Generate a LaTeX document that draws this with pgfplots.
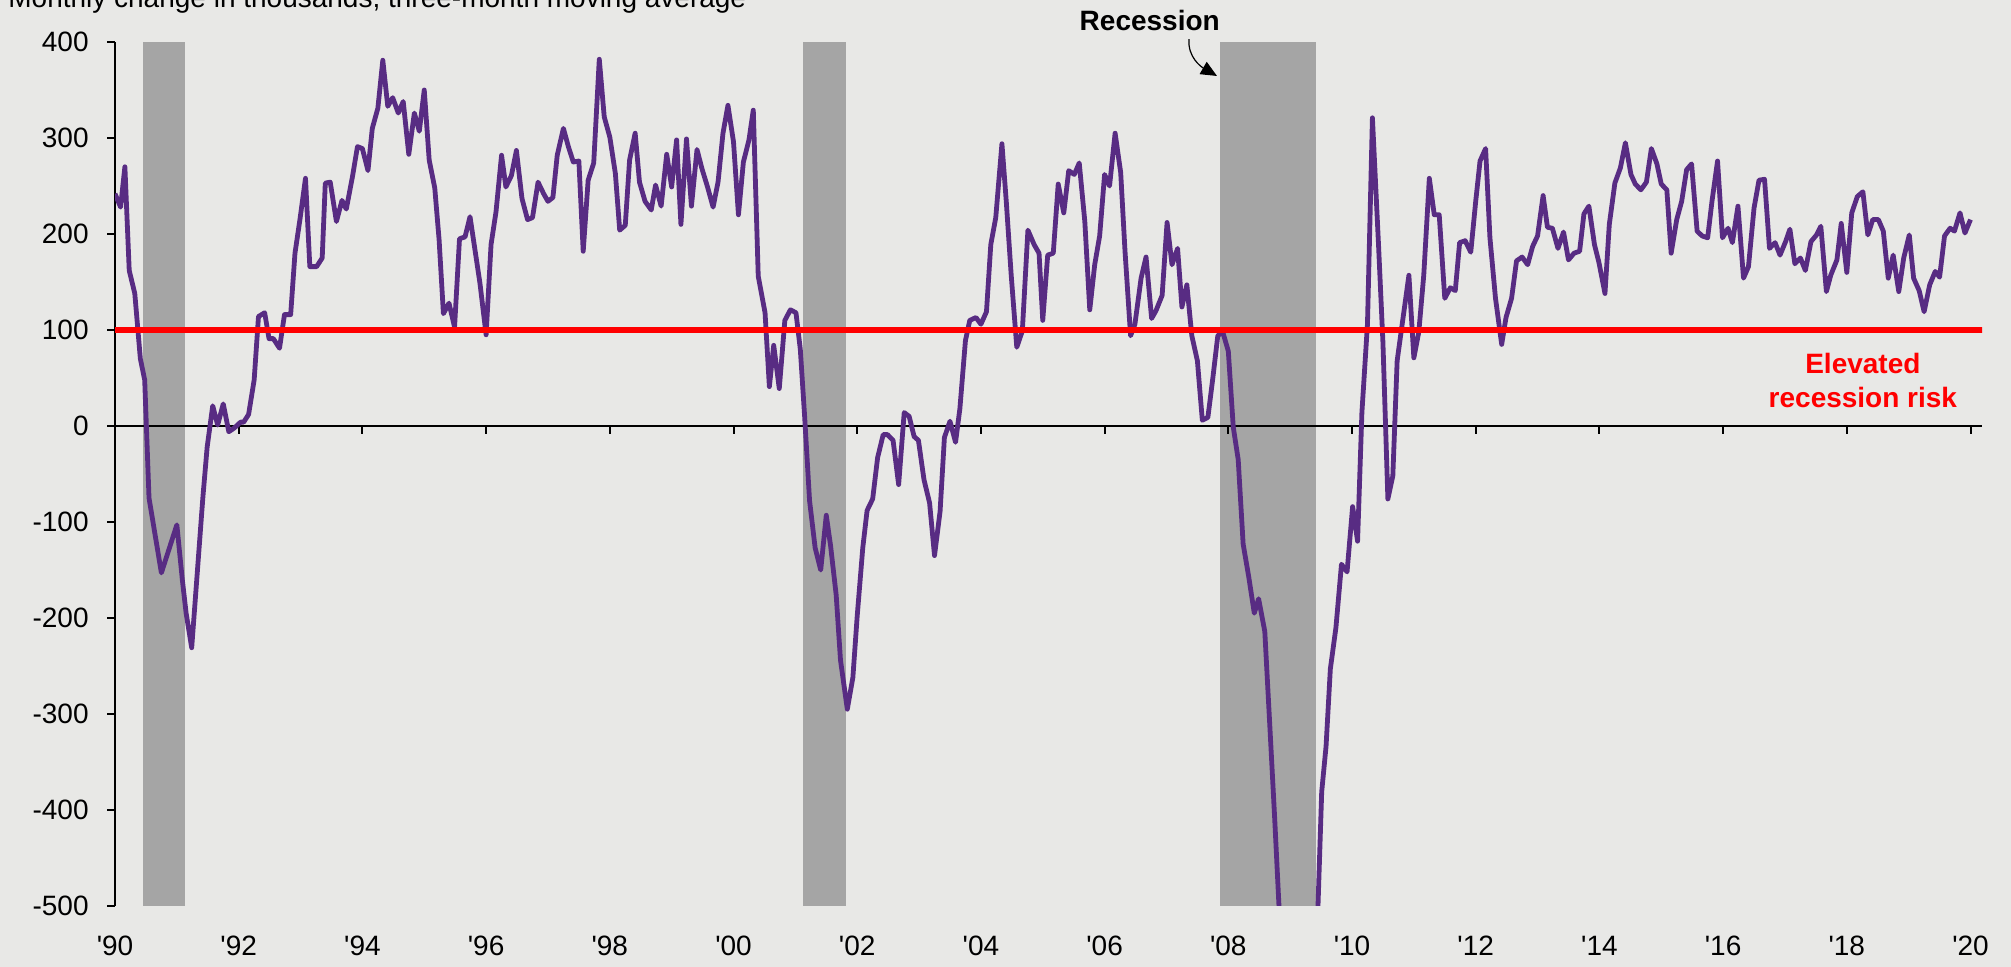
\documentclass[border=0pt]{standalone}
\usepackage{fontspec}
\setmainfont{Liberation Sans}
\usepackage{pgfplots}
\usepackage{pgfplotstable}
\pgfplotsset{compat=1.18}
\usetikzlibrary{arrows.meta}
\definecolor{bg}{HTML}{E8E8E6}
\definecolor{jobs}{HTML}{582C83}
\definecolor{recess}{HTML}{A5A5A5}
\definecolor{risk}{HTML}{FF0000}

% payroll change, thousands, 3-month moving average
\pgfplotstableread{
yr val
1990.00 242
1990.09 228
1990.16 270
1990.23 162
1990.32 138
1990.41 70
1990.48 48
1990.55 -75
1990.75 -153
1991.00 -103
1991.09 -161
1991.15 -195
1991.24 -231
1991.42 -75
1991.49 -22
1991.58 21
1991.66 1
1991.75 23
1991.84 -6
1991.93 -2
1992.03 4
1992.08 4
1992.16 12
1992.25 48
1992.32 114
1992.42 118
1992.49 91
1992.56 91
1992.66 81
1992.74 116
1992.84 116
1992.91 180
1992.99 215
1993.08 258
1993.15 166
1993.26 166
1993.35 175
1993.40 253
1993.48 254
1993.58 213
1993.67 235
1993.74 226
1993.84 260
1993.92 291
1994.00 289
1994.09 266
1994.16 310
1994.25 331
1994.33 381
1994.41 333
1994.49 342
1994.58 326
1994.66 338
1994.75 283
1994.84 326
1994.92 307
1995.00 350
1995.08 277
1995.17 248
1995.24 194
1995.31 117
1995.40 128
1995.49 103
1995.57 195
1995.66 197
1995.74 218
1995.90 149
1996.00 95
1996.08 189
1996.16 223
1996.25 282
1996.32 249
1996.41 261
1996.49 287
1996.58 237
1996.67 215
1996.75 217
1996.84 254
1996.93 242
1997.00 234
1997.08 238
1997.15 282
1997.25 310
1997.33 291
1997.41 275
1997.50 276
1997.57 182
1997.65 256
1997.74 274
1997.83 382
1997.91 322
1998.00 301
1998.09 263
1998.16 204
1998.25 209
1998.32 277
1998.41 305
1998.48 254
1998.57 234
1998.67 225
1998.74 251
1998.83 229
1998.92 283
1999.00 249
1999.08 298
1999.15 210
1999.24 299
1999.32 229
1999.41 288
1999.49 268
1999.58 249
1999.67 228
1999.75 254
1999.83 305
1999.91 334
2000.00 296
2000.08 220
2000.16 275
2000.25 298
2000.32 329
2000.40 156
2000.51 118
2000.58 41
2000.65 84
2000.74 39
2000.83 110
2000.92 121
2001.01 118
2001.08 80
2001.15 10
2001.23 -78
2001.32 -127
2001.41 -150
2001.50 -93
2001.57 -125
2001.66 -176
2001.73 -244
2001.84 -295
2001.93 -262
2002.00 -198
2002.09 -127
2002.16 -88
2002.25 -76
2002.33 -33
2002.42 -9
2002.49 -9
2002.58 -15
2002.67 -61
2002.76 14
2002.84 10
2002.92 -11
2002.99 -15
2003.08 -56
2003.17 -80
2003.25 -135
2003.34 -89
2003.41 -12
2003.50 5
2003.59 -17
2003.66 18
2003.75 89
2003.82 110
2003.92 113
2004.00 106
2004.09 119
2004.16 189
2004.24 217
2004.34 294
2004.41 234
2004.49 157
2004.58 82
2004.67 99
2004.76 204
2004.86 189
2004.94 180
2005.00 110
2005.08 178
2005.17 180
2005.25 252
2005.34 222
2005.42 266
2005.51 262
2005.59 274
2005.68 213
2005.76 121
2005.84 168
2005.92 198
2006.00 262
2006.08 250
2006.17 305
2006.26 264
2006.33 182
2006.42 94
2006.49 106
2006.59 154
2006.67 176
2006.76 112
2006.83 120
2006.93 136
2007.01 212
2007.09 168
2007.18 185
2007.25 124
2007.33 147
2007.41 94
2007.50 68
2007.58 6
2007.67 9
2007.75 50
2007.83 94
2007.91 98
2008.00 78
2008.08 -1
2008.16 -35
2008.24 -123
2008.33 -157
2008.42 -195
2008.49 -180
2008.59 -214
2008.67 -311
2008.75 -409
2008.82 -501
2008.92 -590
2009.00 -680
2009.08 -720
2009.17 -750
2009.25 -740
2009.33 -660
2009.42 -560
2009.51 -381
2009.58 -334
2009.65 -253
2009.74 -210
2009.83 -144
2009.92 -152
2010.01 -84
2010.09 -120
2010.16 14
2010.25 106
2010.33 321
2010.43 187
2010.50 87
2010.58 -76
2010.66 -52
2010.73 68
2010.92 157
2011.00 71
2011.08 98
2011.16 157
2011.25 258
2011.33 220
2011.41 220
2011.50 133
2011.59 144
2011.67 141
2011.74 191
2011.83 193
2011.92 181
2012.00 234
2012.07 276
2012.16 289
2012.23 196
2012.32 133
2012.42 85
2012.49 113
2012.58 133
2012.66 172
2012.75 176
2012.84 168
2012.92 187
2013.00 198
2013.09 240
2013.16 207
2013.24 206
2013.33 185
2013.42 202
2013.50 173
2013.59 180
2013.68 182
2013.75 221
2013.83 229
2013.92 189
2013.99 171
2014.09 138
2014.16 210
2014.25 253
2014.34 269
2014.42 295
2014.51 262
2014.58 252
2014.67 246
2014.76 254
2014.84 289
2014.93 273
2015.00 252
2015.09 246
2015.16 180
2015.25 215
2015.33 234
2015.41 267
2015.49 273
2015.58 203
2015.66 198
2015.75 196
2015.82 234
2015.91 276
2015.99 196
2016.08 206
2016.15 191
2016.24 229
2016.33 154
2016.41 166
2016.50 227
2016.58 256
2016.67 257
2016.75 185
2016.84 191
2016.92 178
2017.01 192
2017.08 205
2017.16 169
2017.25 175
2017.33 162
2017.42 192
2017.51 199
2017.58 208
2017.67 140
2017.74 157
2017.84 173
2017.91 211
2018.00 160
2018.08 222
2018.17 239
2018.26 244
2018.34 199
2018.42 215
2018.51 215
2018.59 203
2018.67 154
2018.75 178
2018.84 140
2018.92 175
2019.01 199
2019.08 154
2019.17 141
2019.25 119
2019.34 147
2019.43 161
2019.50 155
2019.58 198
2019.67 206
2019.74 203
2019.83 222
2019.91 201
2020.00 215
}\payrolls

\begin{document}
\begin{tikzpicture}
\fill[bg] (-57.5pt,-30.5pt) rectangle (948pt,453pt);
\begin{axis}[
  at={(0,0)}, anchor=south west,
  scale only axis, width=933.5pt, height=432pt,
  xmin=1990, xmax=2020.186, ymin=-500, ymax=400,
  axis y line*=left, axis x line*=bottom,
  x axis line style={draw=none},
  y axis line style={line width=1pt},
  ytick={-500,-400,-300,-200,-100,0,100,200,300,400},
  yticklabels={-500,-400,-300,-200,-100,0,100,200,300,400},
  xtick={1990,1992,1994,1996,1998,2000,2002,2004,2006,2008,2010,2012,2014,2016,2018,2020},
  xticklabels={\textquotesingle90,\textquotesingle92,\textquotesingle94,\textquotesingle96,\textquotesingle98,\textquotesingle00,\textquotesingle02,\textquotesingle04,\textquotesingle06,\textquotesingle08,\textquotesingle10,\textquotesingle12,\textquotesingle14,\textquotesingle16,\textquotesingle18,\textquotesingle20},
  tick align=outside, major tick length=4pt,
  xtick style={draw=none},
  ytick style={line width=1pt, black},
  ticklabel style={font=\fontsize{14}{16}\selectfont},
  yticklabel style={anchor=east, inner sep=0pt, xshift=-9pt},
  xticklabel style={anchor=north, inner sep=0pt, yshift=-11pt},
  clip mode=individual,
]
% recession bands
\addplot[draw=none, fill=recess] coordinates {(1990.45,-500) (1990.45,400) (1991.13,400) (1991.13,-500)} -- cycle;
\addplot[draw=none, fill=recess] coordinates {(2001.12,-500) (2001.12,400) (2001.82,400) (2001.82,-500)} -- cycle;
\addplot[draw=none, fill=recess] coordinates {(2007.87,-500) (2007.87,400) (2009.42,400) (2009.42,-500)} -- cycle;

% zero line with year ticks
\draw[line width=1pt] (axis cs:1990,0) -- (axis cs:2020.186,0);
\pgfplotsinvokeforeach{1992,1994,1996,1998,2000,2002,2004,2006,2008,2010,2012,2014,2016,2018,2020}{
  \draw[line width=1pt] (axis cs:#1,0) -- ++(0pt,-4pt);
}

\addplot[jobs, line width=2.4pt, line join=round] table[x=yr, y=val] {\payrolls};
\addplot[risk, line width=3.3pt, line cap=round] coordinates {(1990,100) (2020.186,100)};

\node[anchor=base, inner sep=0pt, font=\bfseries\fontsize{14}{16}\selectfont] at (axis cs:2006.73,411.5) {Recession};
\draw[line width=0.6pt, -{Triangle[length=8pt,width=7pt]}] (axis cs:2007.365,403) to[out=-95,in=150] (axis cs:2007.817,364.6);
\node[anchor=north, align=center, inner sep=0pt, text=risk, font=\bfseries\fontsize{14}{17}\selectfont] at (axis cs:2018.26,76) {Elevated\\recession risk};
\end{axis}
\node[anchor=base west, inner sep=0pt, font=\fontsize{14}{16}\selectfont] at (-53.5pt,449pt) {Monthly change in thousands, three-month moving average};
\pgfresetboundingbox
\useasboundingbox (-57.5pt,-30.5pt) rectangle (948pt,453pt);
\end{tikzpicture}
\end{document}
